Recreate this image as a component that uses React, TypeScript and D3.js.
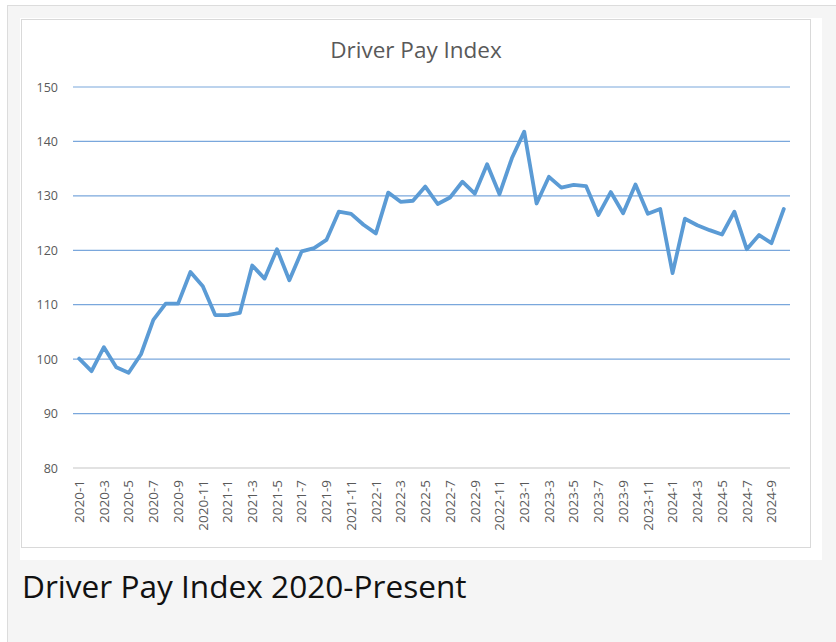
import React from "react";
import * as d3 from "d3";

const months: string[] = [
  "2020-1","2020-2","2020-3","2020-4","2020-5","2020-6","2020-7","2020-8","2020-9","2020-10","2020-11","2020-12",
  "2021-1","2021-2","2021-3","2021-4","2021-5","2021-6","2021-7","2021-8","2021-9","2021-10","2021-11","2021-12",
  "2022-1","2022-2","2022-3","2022-4","2022-5","2022-6","2022-7","2022-8","2022-9","2022-10","2022-11","2022-12",
  "2023-1","2023-2","2023-3","2023-4","2023-5","2023-6","2023-7","2023-8","2023-9","2023-10","2023-11","2023-12",
  "2024-1","2024-2","2024-3","2024-4","2024-5","2024-6","2024-7","2024-8","2024-9","2024-10",
];

const payIndex: number[] = [
  100.1, 97.8, 102.2, 98.5, 97.5, 100.9, 107.2, 110.2, 110.2, 116.0, 113.4, 108.1,
  108.1, 108.5, 117.2, 114.8, 120.2, 114.5, 119.8, 120.4, 121.9, 127.1, 126.7, 124.7,
  123.1, 130.6, 128.9, 129.1, 131.7, 128.5, 129.7, 132.6, 130.4, 135.8, 130.3, 136.9,
  141.8, 128.6, 133.5, 131.5, 132.0, 131.8, 126.5, 130.7, 126.8, 132.1, 126.7, 127.6,
  115.8, 125.8, 124.6, 123.7, 122.9, 127.1, 120.2, 122.8, 121.3, 127.6,
];

const yTicks: number[] = [80, 90, 100, 110, 120, 130, 140, 150];

const chartTitle = "Driver Pay Index";
const caption = "Driver Pay Index 2020-Present";

export default function App() {
  const W = 836;
  const H = 642;
  const x = d3.scaleBand<string>().domain(months).range([73, 790]);
  const bw = x.bandwidth();
  const cx = (m: string) => (x(m) as number) + bw / 2;
  const y = d3.scaleLinear().domain([80, 150]).range([468, 87]);
  const line = d3
    .line<number>()
    .x((_, i) => cx(months[i]))
    .y((v) => y(v));
  const labelMonths = months.filter((_, i) => i % 2 === 0);
  const font = "'Open Sans', sans-serif";

  return (
    <svg
      width={W}
      height={H}
      style={{ position: "absolute", left: 0, top: 0 }}
      fontFamily={font}
    >
      <rect x={0} y={0} width={W} height={H} fill="#ffffff" />
      <rect x={7.5} y={5.5} width={W} height={H} fill="#f5f5f5" stroke="#dcdcdc" />
      <rect x={20} y={18} width={802} height={542} fill="#ffffff" />
      <rect x={21.5} y={19.5} width={789} height={528} fill="#ffffff" stroke="#d9d9d9" />

      <text x={416} y={58} textAnchor="middle" fontSize={22.5} fill="#595959">
        {chartTitle}
      </text>

      {yTicks.map((t) =>
        t === 80 ? null : (
          <line key={"g" + t} x1={73} x2={790} y1={y(t)} y2={y(t)} stroke="#7aa7dc" strokeWidth={1.2} />
        )
      )}
      <line x1={73} x2={790} y1={y(80)} y2={y(80)} stroke="#d9d9d9" strokeWidth={1.5} />

      {yTicks.map((t) => (
        <text key={"y" + t} x={58} y={y(t) + 4.5} textAnchor="end" fontSize={12.5} fill="#595959">
          {t}
        </text>
      ))}

      {labelMonths.map((m) => (
        <text
          key={"x" + m}
          transform={`translate(${cx(m) + 4.8},${480}) rotate(-90)`}
          textAnchor="end"
          fontSize={13.5}
          fill="#595959"
        >
          {m}
        </text>
      ))}

      <path
        d={line(payIndex) || ""}
        fill="none"
        stroke="#5b9bd5"
        strokeWidth={3.8}
        strokeLinejoin="round"
        strokeLinecap="round"
      />

      <text x={22} y={598} fontSize={31.6} fill="#111111">
        {caption}
      </text>
    </svg>
  );
}
